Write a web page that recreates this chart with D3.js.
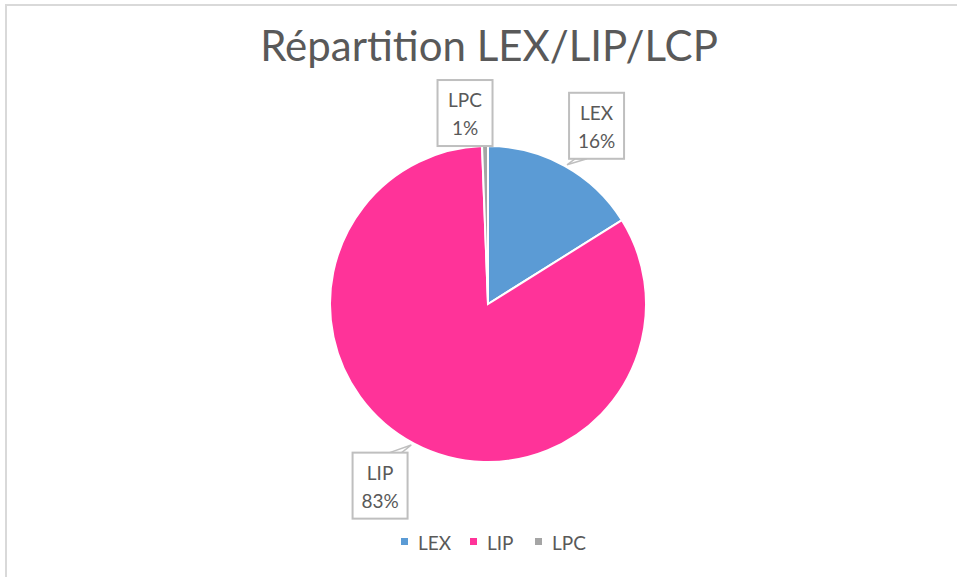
<!DOCTYPE html>
<html>
<head>
<meta charset="utf-8">
<script src="https://cdn.jsdelivr.net/npm/d3@7"></script>
<style>
  html, body { margin: 0; padding: 0; background: #fff; }
  svg { display: block; font-family: Lato, "Open Sans", sans-serif; }
</style>
</head>
<body>
<svg id="chart" width="957" height="577"></svg>
<script>
// chart data
var categories = ['LEX', 'LIP', 'LPC'];
var values = [16.1, 83.3, 0.6];
var colors = ['#5b9bd5', '#ff3399', '#a5a5a5'];
var titleText = 'Répartition LEX/LIP/LCP';

// label box nudges (layout only)
var labelNudge = [[32, -40], [-34, 42], [-20, -33]];

var svg = d3.select('#chart');
var W = 957, H = 577;
var cx = 488, cy = 304, R = 158;

// outer frame
svg.append('path')
  .attr('d', 'M6,' + H + ' V5 H' + W)
  .attr('fill', 'none')
  .attr('stroke', '#d9d9d9')
  .attr('stroke-width', 2);

svg.append('text')
  .attr('x', 489).attr('y', 61)
  .attr('text-anchor', 'middle')
  .attr('font-size', 42)
  .attr('fill', '#595959')
  .text(titleText);

var data = categories.map(function(c, i) { return { name: c, value: values[i], color: colors[i], idx: i }; });
var total = d3.sum(values);

var pie = d3.pie().value(function(d) { return d.value; }).sort(null);
var arc = d3.arc().innerRadius(0).outerRadius(R);
var arcs = pie(data);

var g = svg.append('g').attr('transform', 'translate(' + cx + ',' + cy + ')');

g.selectAll('path.slice')
  .data(arcs)
  .enter().append('path')
  .attr('class', 'slice')
  .attr('d', arc)
  .attr('fill', function(d) { return d.data.color; })
  .attr('stroke', '#fff')
  .attr('stroke-width', 2);

// callout labels
var bw = 55, bh = 66;
arcs.forEach(function(a, i) {
  var mid = (a.startAngle + a.endAngle) / 2;
  var px = Math.sin(mid) * R, py = -Math.cos(mid) * R;
  var bx = px + labelNudge[i][0], by = py + labelNudge[i][1];
  var pct = d3.format('.0%')(a.data.value / total);

  var lg = g.append('g').attr('class', 'callout');
  // pointer, a thin wedge from the box edge to the slice
  var ex = bx + (px > bx ? 1 : -1) * (bw / 2 - 12);
  var ey = by + (py > by ? 1 : -1) * (bh / 2);
  if (Math.hypot(px - ex, py - ey) > 10) {
    var tx = ex + (px - ex) * 0.85, ty = ey + (py - ey) * 0.85;
    lg.append('path')
      .attr('d', 'M' + (ex - 6) + ',' + ey + ' L' + tx + ',' + ty + ' L' + (ex + 6) + ',' + ey + 'Z')
      .attr('fill', '#fff')
      .attr('stroke', '#bfbfbf')
      .attr('stroke-width', 1.5);
  }
  lg.append('rect')
    .attr('x', bx - bw / 2).attr('y', by - bh / 2)
    .attr('width', bw).attr('height', bh)
    .attr('fill', '#fff')
    .attr('stroke', '#bfbfbf')
    .attr('stroke-width', 2);
  lg.append('text')
    .attr('x', bx).attr('y', by - 6)
    .attr('text-anchor', 'middle')
    .attr('font-size', 19)
    .attr('fill', '#595959')
    .text(a.data.name);
  lg.append('text')
    .attr('x', bx).attr('y', by + 22)
    .attr('text-anchor', 'middle')
    .attr('font-size', 19)
    .attr('fill', '#595959')
    .text(pct);
});

// legend
var legendX = d3.scaleOrdinal().domain(categories).range([401, 470, 535]);
var leg = svg.append('g').selectAll('g')
  .data(data).enter().append('g')
  .attr('transform', function(d) { return 'translate(' + legendX(d.name) + ',542)'; });
leg.append('rect')
  .attr('x', 0).attr('y', -4).attr('width', 7).attr('height', 7)
  .attr('fill', function(d) { return d.color; });
leg.append('text')
  .attr('x', 17).attr('y', 8)
  .attr('font-size', 19)
  .attr('fill', '#595959')
  .text(function(d) { return d.name; });
</script>
</body>
</html>
